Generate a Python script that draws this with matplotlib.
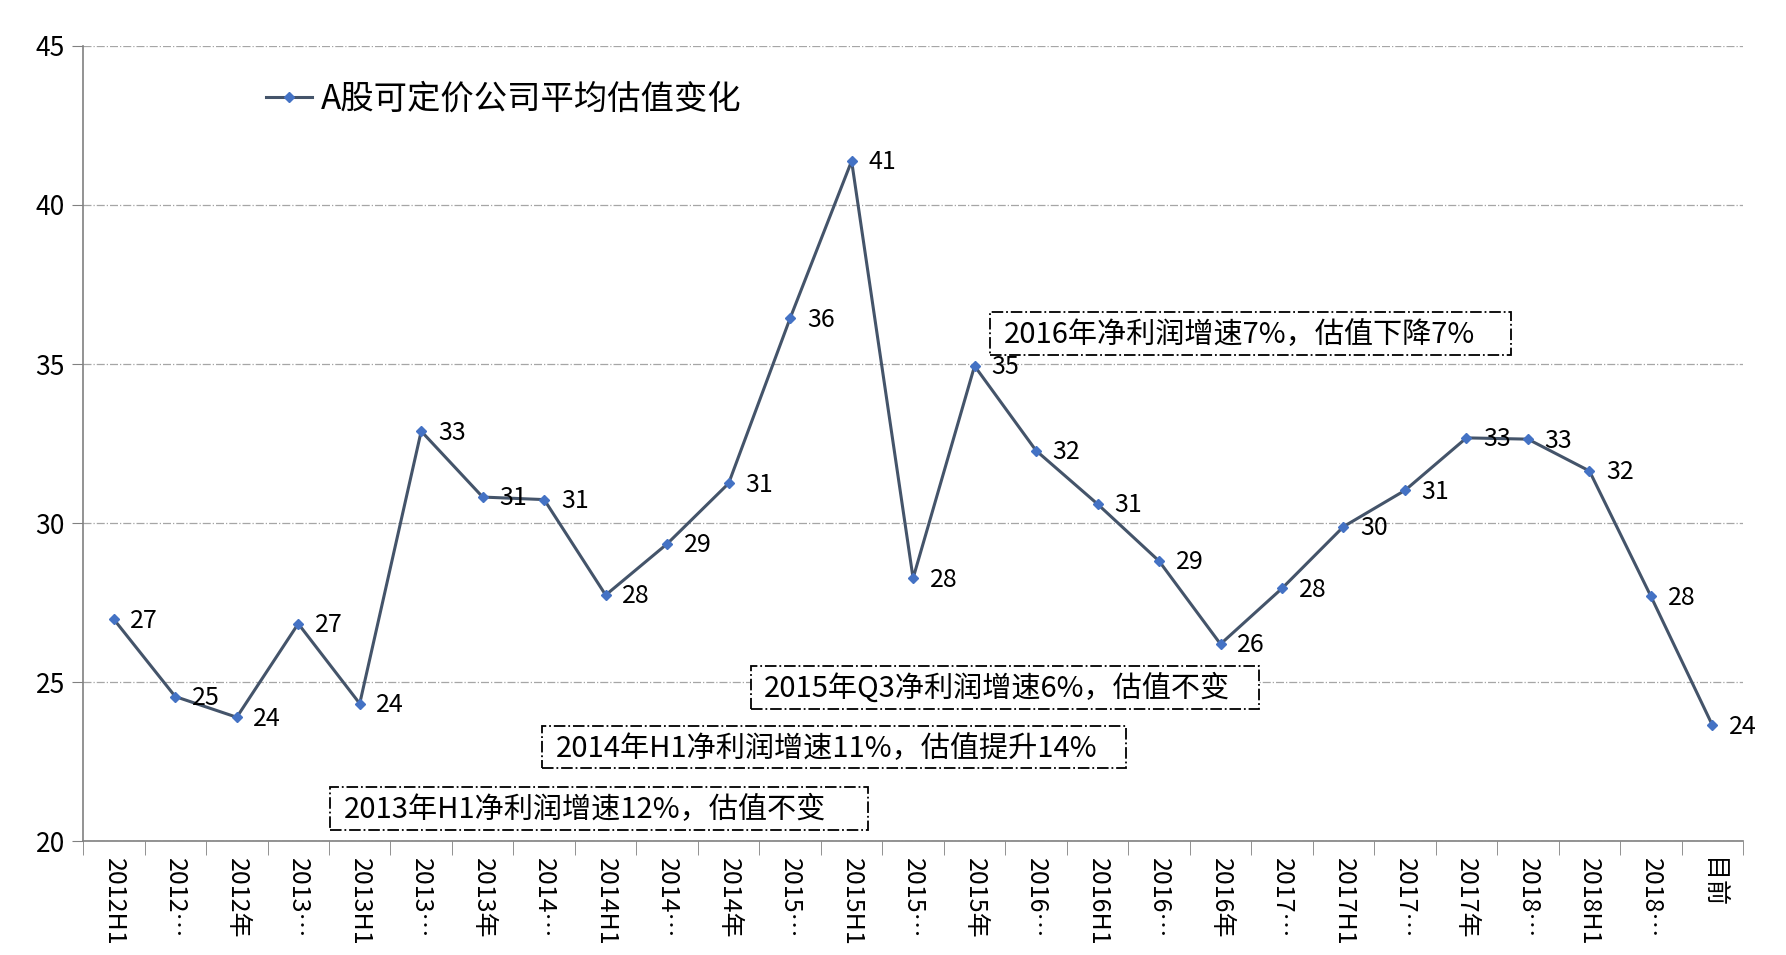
import numpy as np
import matplotlib
matplotlib.use("Agg")
from matplotlib import pyplot as plt
from matplotlib.patches import Rectangle

plt.rcParams['font.family'] = ['Noto Sans CJK SC', 'DejaVu Sans']

periods = ["2012H1", "2012…", "2012年", "2013…", "2013H1", "2013…", "2013年",
           "2014…", "2014H1", "2014…", "2014年", "2015…", "2015H1", "2015…",
           "2015年", "2016…", "2016H1", "2016…", "2016年", "2017…", "2017H1",
           "2017…", "2017年", "2018…", "2018H1", "2018…", "目前"]
pe_values = [26.98, 24.55, 23.9, 26.84, 24.33, 32.89, 30.82, 30.74, 27.74, 29.35,
             31.25, 36.44, 41.38, 28.27, 34.94, 32.28, 30.6, 28.81, 26.2, 27.95,
             29.89, 31.03, 32.68, 32.64, 31.64, 27.7, 23.65]
series_name = "A股可定价公司平均估值变化"

# notes: text, box left/right (category units), box bottom/top (value units)
notes = [
    ("2013年H1净利润增速12%，估值不变", 3.52, 12.27, 20.36, 21.72),
    ("2014年H1净利润增速11%，估值提升14%", 6.97, 16.46, 22.29, 23.62),
    ("2015年Q3净利润增速6%，估值不变", 10.36, 18.63, 24.15, 25.52),
    ("2016年净利润增速7%，估值下降7%", 14.25, 22.72, 35.29, 36.65),
]


def draw_chart():
    fig = plt.figure(figsize=(17.86, 9.55), dpi=100)
    ax = fig.add_axes([0.0465, 0.119, 0.9295, 0.833])
    x = np.arange(len(periods))

    ax.plot(x, pe_values, color='#44546A', lw=2.2, marker='D', ms=5,
            mfc='#4472C4', mec='#4472C4', label=series_name, zorder=3)
    for xi, v in zip(x, pe_values):
        ax.annotate(f"{v:.0f}", (xi, v), xytext=(12, -1), textcoords='offset points',
                    ha='left', va='center', fontsize=18, zorder=4)

    for txt, x0, x1, y0, y1 in notes:
        ax.add_patch(Rectangle((x0, y0), x1 - x0, y1 - y0, fc='white', ec='black',
                               ls='-.', lw=1.3, zorder=5))
        ax.text(x0 + 0.22, (y0 + y1) / 2 - 0.05, txt, ha='left', va='center',
                fontsize=21, zorder=6)

    ax.set_xlim(-0.5, len(periods) - 0.5)
    ax.set_ylim(20, 45)
    ax.set_yticks(np.arange(20, 46, 5))
    ax.yaxis.grid(True, color='#A6A6A6', ls='-.', lw=0.9)
    ax.set_axisbelow(True)

    ax.set_xticks(x)
    ax.set_xticklabels(periods, rotation=-90, fontsize=18, va='top')
    ax.set_xticks(np.arange(-0.5, len(periods), 1), minor=True)
    ax.tick_params(axis='x', which='major', length=0, pad=12)
    ax.tick_params(axis='x', which='minor', length=10, color='#808080', direction='out')
    ax.tick_params(axis='y', labelsize=19, length=8, color='#808080', pad=5)

    for s in ['top', 'right']:
        ax.spines[s].set_visible(False)
    for s in ['left', 'bottom']:
        ax.spines[s].set_color('#808080')
        ax.spines[s].set_linewidth(1.2)

    ax.legend(loc='center left', bbox_to_anchor=(0.1, 0.933), frameon=False,
              fontsize=24, handlelength=1.4, handletextpad=0.25, borderpad=0)

    fig.savefig("out.png", dpi=100)


if __name__ == "__main__":
    draw_chart()
